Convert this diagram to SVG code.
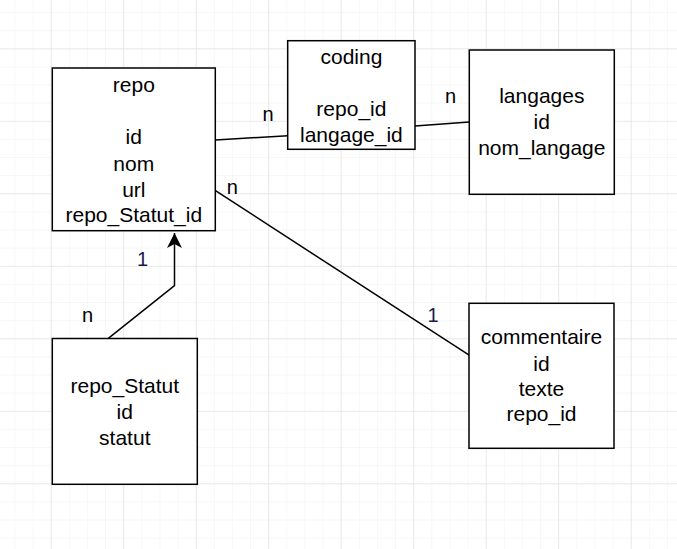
<svg xmlns="http://www.w3.org/2000/svg" width="677" height="549" viewBox="0 0 677 549">
<defs>
<pattern id="minor" x="14.45" y="12.05" width="18.125" height="18.125" patternUnits="userSpaceOnUse">
<path d="M0 0H18.125M0 0V18.125" fill="none" stroke="#f0f0f0" stroke-width="1"/>
</pattern>
<pattern id="major" x="50.7" y="48.3" width="72.5" height="72.5" patternUnits="userSpaceOnUse">
<path d="M0 0H72.5M0 0V72.5" fill="none" stroke="#dcdcdc" stroke-width="1"/>
</pattern>
<marker id="arrow" viewBox="0 0 16 16" refX="15" refY="8" markerWidth="16" markerHeight="16" markerUnits="userSpaceOnUse" orient="auto">
<path d="M15 8 L0 0.5 L4 8 L0 15.5 Z" fill="#000"/>
</marker>
</defs>
<style>
.box{fill:#fff;stroke:#000;stroke-width:1.5}
.t{font-family:"Liberation Sans",Arial,sans-serif;font-size:21px;fill:#000;text-anchor:middle}
.lbl{font-family:"Liberation Sans",Arial,sans-serif;font-size:20px;text-anchor:middle}
.n{fill:#000}
.one{fill:#1a1a50}
.edge{fill:none;stroke:#000;stroke-width:1.5}
</style>
<rect width="677" height="549" fill="#fff"/>
<rect width="677" height="549" fill="url(#minor)"/>
<rect width="677" height="549" fill="url(#major)"/>
<g id="connectors">
<path class="edge" d="M215.5 140 L288 135.7"/>
<path class="edge" d="M415 126 L469.3 122"/>
<path class="edge" d="M215.5 190.7 L473 357.7"/>
<path class="edge" d="M108.3 338.3 L174.5 285.7 L174.5 233" marker-end="url(#arrow)"/>
<text class="lbl n" x="268" y="120.7">n</text>
<text class="lbl n" x="450.5" y="103.3">n</text>
<text class="lbl n" x="232.3" y="194">n</text>
<text class="lbl one" x="433" y="321.7">1</text>
<text class="lbl one" x="142.5" y="265.7">1</text>
<text class="lbl n" x="87.5" y="321.7">n</text>
</g>
<g id="repo">
<rect class="box" x="52.3" y="68" width="163" height="162.7"/>
<text class="t" x="133.8" y="91.7">repo</text>
<text class="t" x="133.8" y="144.3">id</text>
<text class="t" x="133.8" y="170.5">nom</text>
<text class="t" x="133.8" y="196.6">url</text>
<text class="t" x="133.8" y="222.4">repo_Statut_id</text>
</g>
<g id="coding">
<rect class="box" x="287.7" y="40.7" width="127.3" height="108.6"/>
<text class="t" x="351.4" y="64.3">coding</text>
<text class="t" x="351.4" y="116">repo_id</text>
<text class="t" x="351.4" y="141.7">langage_id</text>
</g>
<g id="langages">
<rect class="box" x="469.3" y="50" width="145" height="144.3"/>
<text class="t" x="541.8" y="103">langages</text>
<text class="t" x="541.8" y="129.2">id</text>
<text class="t" x="541.8" y="155">nom_langage</text>
</g>
<g id="commentaire">
<rect class="box" x="469" y="303.3" width="145" height="145"/>
<text class="t" x="541.5" y="344.3">commentaire</text>
<text class="t" x="541.5" y="370.5">id</text>
<text class="t" x="541.5" y="396">texte</text>
<text class="t" x="541.5" y="421">repo_id</text>
</g>
<g id="repo_Statut">
<rect class="box" x="52.3" y="338.5" width="145" height="145.8"/>
<text class="t" x="124.8" y="393.3">repo_Statut</text>
<text class="t" x="124.8" y="419.3">id</text>
<text class="t" x="124.8" y="445">statut</text>
</g>
</svg>
